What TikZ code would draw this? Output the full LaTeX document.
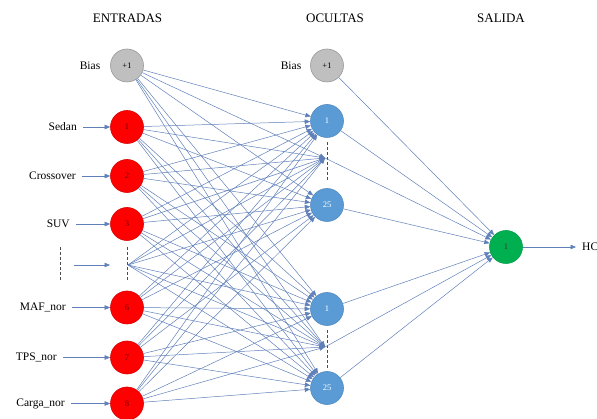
\documentclass[tikz,border=0pt]{standalone}
\usepackage{fontspec}
\setmainfont{Liberation Serif}
\usetikzlibrary{arrows.meta, positioning}

\definecolor{edgeblue}{RGB}{96,128,186}
\definecolor{hidblue}{RGB}{91,155,213}
\definecolor{outgreen}{RGB}{0,176,80}
\definecolor{biasgray}{RGB}{191,191,191}

\begin{document}
\begin{tikzpicture}[x=1pt, y=-1pt,
		Node/.style={circle, minimum size=33pt, inner sep=0pt, line width=0.6pt,
			font=\fontsize{8.5}{9}\selectfont},
		InNode/.style={Node, fill=red, draw=red!85!black, text=red!40!black},
		HidNode/.style={Node, fill=hidblue, draw=hidblue!90!black, text=white},
		OutNode/.style={Node, fill=outgreen, draw=outgreen!90!black, text=black!80},
		BiasNode/.style={Node, fill=biasgray, draw=gray!80},
		Label/.style={inner xsep=6pt, font=\fontsize{11.5}{13}\selectfont},
		Head/.style={font=\fontsize{13}{15}\selectfont},
		link/.style={draw=edgeblue, line width=0.5pt, -{Triangle[length=5.5pt,width=4.5pt]}},
		dots/.style={densely dashed, line width=0.6pt, black!70}
	]
	\useasboundingbox (0,0) rectangle (597,419);
	
	% column titles
	\node[Head] (tIn) at (127.5,18) {ENTRADAS};
	\node[Head] (tHid) at (335,18) {OCULTAS};
	\node[Head] (tOut) at (501,18) {SALIDA};
	
	% input layer
	\node[BiasNode] (i0) at (127,65.5) {+1};
	\node[InNode] (i1) at (127,127) {1};
	\node[InNode] (i2) at (127,176) {2};
	\node[InNode] (i3) at (127,224) {3};
	\coordinate (id) at (128,265);
	\node[InNode] (i6) at (127,307.5) {6};
	\node[InNode] (i7) at (127,357.5) {7};
	\node[InNode] (i8) at (127,403.5) {8};
	
	\node[Label] (lBias) at (90,65.5) {Bias};
	\node[Label, anchor=east] (lSedan) at (83,127) {Sedan};
	\node[Label, anchor=east] (lCross) at (82,176) {Crossover};
	\node[Label, anchor=east] (lSuv) at (76,224) {SUV};
	\node[Label, anchor=east] (lMaf) at (72,307.5) {MAF\_nor};
	\node[Label, anchor=east] (lTps) at (63,357.5) {TPS\_nor};
	\node[Label, anchor=east] (lCarga) at (71,403.5) {Carga\_nor};
	\coordinate (dA) at (74,265);
	\coordinate (dB) at (110,265);
	
	\draw[link] (lSedan) -- (i1);
	\draw[link] (lCross) -- (i2);
	\draw[link] (lSuv) -- (i3);
	\draw[link] (dA) -- (dB);
	\draw[link] (lMaf) -- (i6);
	\draw[link] (lTps) -- (i7);
	\draw[link] (lCarga) -- (i8);
	\draw[dots] (60,247) -- (60,281);
	\draw[dots] (127.5,247) -- (127.5,281);
	
	% hidden layer
	\node[Label] (lBiasH) at (291,65.5) {Bias};
	\node[BiasNode] (hbias) at (327,65.5) {+1};
	\node[HidNode] (ha1) at (327,121) {1};
	\coordinate (hda) at (325,158);
	\node[HidNode] (ha25) at (327,205) {25};
	\node[HidNode] (hb1) at (327,309) {1};
	\coordinate (hdb) at (325,347);
	\node[HidNode] (hb25) at (327,388) {25};
	\draw[dots] (327,142) -- (327,180);
	\draw[dots] (327,330) -- (327,369);
	
	% output layer
	\node[OutNode] (o) at (506,247) {1};
	\node[Label, anchor=west] (hc) at (576,247) {HC};
	\draw[link] (o) -- (hc);
	
	% connections
	\foreach \s in {i0,i1,i2,i3,id,i6,i7,i8}
		\foreach \t in {ha1,hda,ha25,hb1,hdb,hb25}
			\draw[link] (\s) -- (\t);
	\foreach \s in {hbias,ha1,hda,ha25,hb1,hdb,hb25}
		\draw[link] (\s) -- (o);
\end{tikzpicture}
\end{document}
